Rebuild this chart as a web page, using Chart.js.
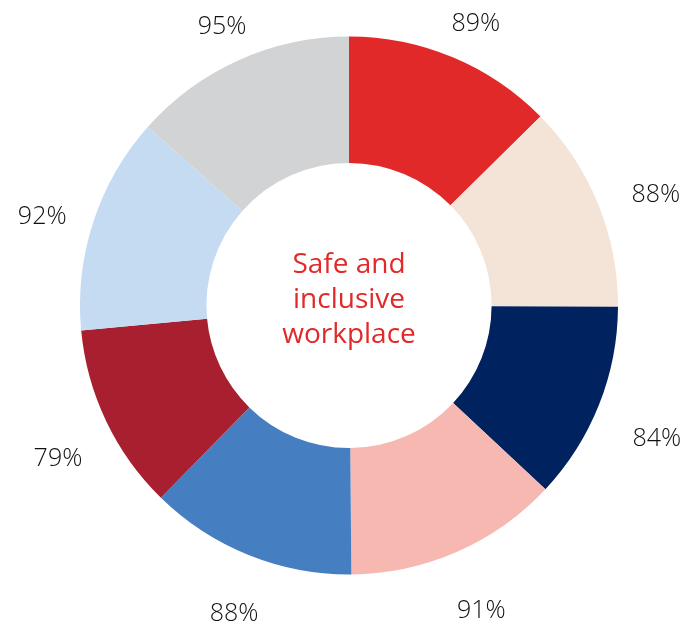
<!DOCTYPE html>
<html>
<head>
<meta charset="utf-8">
<title>Safe and inclusive workplace</title>
<script src="https://cdn.jsdelivr.net/npm/chart.js@4/dist/chart.umd.min.js"></script>
<style>
  html, body { margin: 0; padding: 0; background: #ffffff; }
  #wrap { width: 683px; height: 623px; }
</style>
</head>
<body>
<div id="wrap"><canvas id="chart" width="683" height="623"></canvas></div>
<script>
// Survey results, clockwise from 12 o'clock (percent agreeing)
const values = [89, 88, 84, 91, 88, 79, 92, 95];
const valueLabels = values.map(v => v + '%');
const centerTitle = ['Safe and', 'inclusive', 'workplace'];

// Segment palette
const palette = ['#e1292a', '#f4e4d7', '#00235f', '#f7b8b2', '#457fc1', '#a81f2f', '#c5dbf1', '#d2d3d5'];

const FONT = '"Open Sans", "DejaVu Sans", sans-serif';

// Percentage labels outside the doughnut, on each slice's middle angle.
// Each label box keeps a fixed gap from the outer edge, so wide labels on the
// sides sit further out than those at the top and bottom.
const outerLabels = {
  id: 'outerLabels',
  afterDatasetsDraw(chart, args, opts) {
    const ctx = chart.ctx;
    const meta = chart.getDatasetMeta(0);
    ctx.save();
    ctx.font = '300 25px ' + FONT;
    ctx.fillStyle = '#111111';
    ctx.textAlign = 'center';
    ctx.textBaseline = 'alphabetic';
    const capH = ctx.measureText('8').actualBoundingBoxAscent;
    meta.data.forEach((arc, i) => {
      const p = arc.getProps(['x', 'y', 'startAngle', 'endAngle', 'outerRadius'], true);
      const mid = (p.startAngle + p.endAngle) / 2;
      const dx = Math.cos(mid), dy = Math.sin(mid);
      const w = ctx.measureText(valueLabels[i]).width;
      const extent = Math.abs(dx) * w / 2 + Math.abs(dy) * capH / 2;
      const r = p.outerRadius + opts.gap + extent;
      const lx = p.x + opts.shiftX + dx * r;
      const ly = p.y + opts.shiftY + dy * r;
      ctx.fillText(valueLabels[i], lx, ly + capH / 2);
    });
    ctx.restore();
  }
};

// Title in the hole of the ring
const centerText = {
  id: 'centerText',
  afterDatasetsDraw(chart, args, opts) {
    const ctx = chart.ctx;
    const arc = chart.getDatasetMeta(0).data[0];
    if (!arc) return;
    const { x, y } = arc.getProps(['x', 'y'], true);
    ctx.save();
    ctx.font = '400 28px ' + FONT;
    ctx.fillStyle = '#e1292a';
    ctx.textAlign = 'center';
    ctx.textBaseline = 'alphabetic';
    const capH = ctx.measureText('S').actualBoundingBoxAscent;
    const n = centerTitle.length;
    centerTitle.forEach((line, i) => {
      const cy = y + opts.shiftY + (i - (n - 1) / 2) * opts.lineHeight;
      ctx.fillText(line, x, cy + capH / 2);
    });
    ctx.restore();
  }
};

new Chart(document.getElementById('chart'), {
  type: 'doughnut',
  data: {
    labels: valueLabels,
    datasets: [{
      data: values,
      backgroundColor: palette,
      borderWidth: 0,
      hoverOffset: 0
    }]
  },
  options: {
    responsive: false,
    animation: false,
    cutout: '53%',
    radius: 269,
    layout: { padding: { left: 40, right: 25, top: 20, bottom: 32 } },
    plugins: {
      legend: { display: false },
      tooltip: { enabled: false },
      outerLabels: { gap: 32, shiftX: 4, shiftY: 11 },
      centerText: { lineHeight: 35, shiftY: -8 }
    }
  },
  plugins: [outerLabels, centerText]
});
</script>
</body>
</html>
